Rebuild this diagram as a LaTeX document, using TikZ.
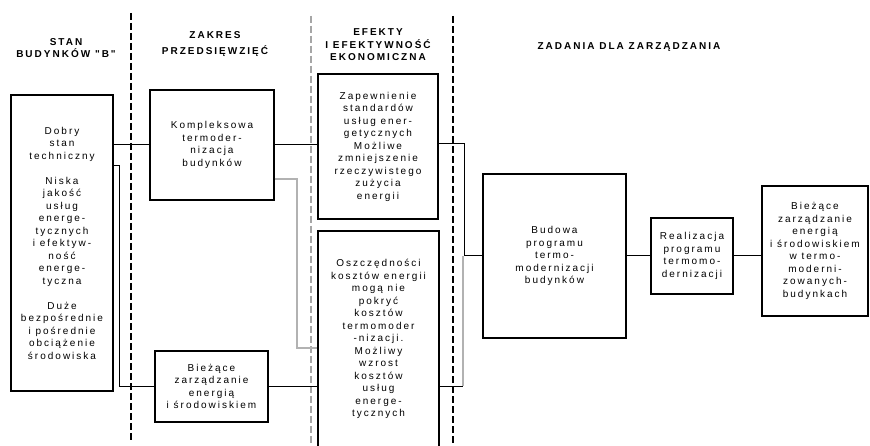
\documentclass[tikz,border=0pt]{standalone}
\usepackage{fontspec}
\setmainfont{Liberation Sans}
\newfontfamily\bodyf[LetterSpace=20]{Liberation Sans}
\usetikzlibrary{calc}
\tikzset{
  box/.style={draw=black, line width=1.3pt, align=center, inner sep=0pt,
    font=\bodyf\fontsize{10}{12.5}\selectfont},
  head/.style={align=center, inner sep=0pt, font=\bodyf\bfseries\fontsize{10}{12.5}\selectfont},
  conn/.style={draw=black, line width=1pt},
  grayline/.style={draw=black!30, line width=2pt},
  sepline/.style={draw=black, line width=1.2pt, dash pattern=on 7pt off 3pt},
  sepgray/.style={draw=black!35, line width=1.2pt, dash pattern=on 7pt off 3pt}
}
\begin{document}
\begin{tikzpicture}[x=1pt,y=-1pt]
\useasboundingbox (0,0) rectangle (870,446);
\fill[white] (0,0) rectangle (870,446);
% separators
\draw[sepline] (131,13) -- (131,441);
\draw[sepgray] (311,16) -- (311,446);
\draw[sepline] (453,16) -- (453,446);
% headers
\node[head] (h1) at (66,48) {STAN\\BUDYNKÓW "B"};
\node[head] (h2) at (215,44) {ZAKRES\\[4pt]PRZEDSIĘWZIĘĆ};
\node[head] (h3) at (378,45) {EFEKTY\\I EFEKTYWNOŚĆ\\EKONOMICZNA};
\node[head] (h4) at (629,47) {ZADANIA DLA ZARZĄDZANIA};
% boxes
\node[box, minimum width=102, minimum height=296] (stan) at (62,243)
  {Dobry\\stan\\techniczny\\[12.5pt]Niska\\jakość\\usług\\energe-\\tycznych\\i efektyw-\\ność\\energe-\\tyczna\\[12.5pt]Duże\\bezpośrednie\\i pośrednie\\obciążenie\\środowiska};
\node[box, minimum width=124, minimum height=110] (komp) at (212,145)
  {Kompleksowa\\termoder-\\nizacja\\budynków};
\node[box, minimum width=113, minimum height=71] (biez) at (211.5,386.5)
  {Bieżące\\zarządzanie\\energią\\i środowiskiem};
\node[box, minimum width=120, minimum height=145] (ef1) at (378,146.5)
  {Zapewnienie\\standardów\\usług ener-\\getycznych\\Możliwe\\zmniejszenie\\rzeczywistego\\zużycia\\energii};
\node[box, minimum width=121, minimum height=216] (ef2) at (378.5,339)
  {Oszczędności\\kosztów energii\\mogą nie\\pokryć\\kosztów\\termomoder\\-nizacji.\\Możliwy\\wzrost\\kosztów\\usług\\energe-\\tycznych};
\node[box, minimum width=143, minimum height=164] (bud) at (554.5,256)
  {Budowa\\programu\\termo-\\modernizacji\\budynków};
\node[box, minimum width=82, minimum height=76] (real) at (692,256)
  {Realizacja\\programu\\termomo-\\dernizacji};
\node[box, minimum width=106, minimum height=130] (zarz) at (815,251)
  {Bieżące\\zarządzanie\\energią\\i środowiskiem\\w termo-\\moderni-\\zowanych-\\budynkach};
% helper coordinates
\coordinate (c1) at (119,166);
\coordinate (g1) at (297,179);
\coordinate (g2) at (297,348);
\coordinate (r1) at (464,144);
\coordinate (r2) at (463,386);
% connectors
\draw[conn] (komp.west) -- (komp.west -| stan.east);
\draw[conn] (komp.east) -- (komp.east -| ef1.west);
\draw[conn] (c1 -| stan.east) -- (c1) |- (biez.west);
\draw[conn] (biez.east) -- (biez.east -| ef2.west);
\draw[grayline] (g1 -| komp.east) -- (g1) -- (g2) -- (g2 -| ef2.west);
\draw[conn] (r1 -| ef1.east) -- (r1) |- (bud.west);
\draw[grayline] (r2) -- (r2 |- bud.west);
\draw[conn] (r2 -| ef2.east) -- (r2);
\draw[conn] (bud.east) -- (real.west);
\draw[conn] (real.east) -- (real.east -| zarz.west);
\end{tikzpicture}
\end{document}
